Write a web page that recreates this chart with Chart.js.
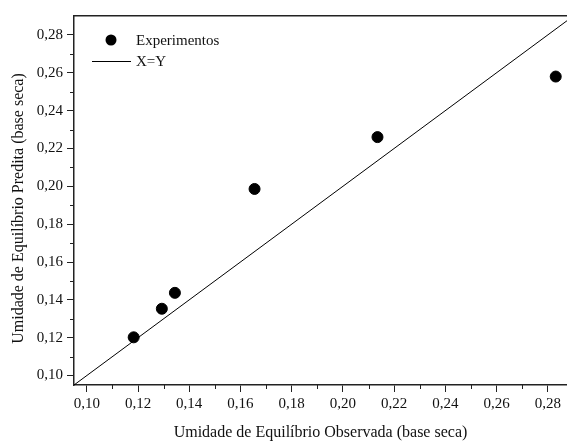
<!DOCTYPE html>
<html lang="en">
  <head>
    <meta name="viewport" content="width=device-width, initial-scale=1.0" />
    <title>Umidade de Equilíbrio</title>
    <style>
      * {
        padding: 0;
        margin: 0;
        box-sizing: border-box;
      }
      body {
        background: #ffffff;
        overflow: hidden;
      }
      .wrapper {
        position: relative;
        width: 567px;
        height: 441px;
      }
    </style>
  </head>
  <body>
    <div class="wrapper">
      <canvas id="chart"></canvas>
    </div>
    <script src="https://cdn.jsdelivr.net/npm/chart.js@4/dist/chart.umd.min.js"></script>
    <script>
      // dados
      const observada = [0.1183, 0.1293, 0.1344, 0.1655, 0.2135, 0.2831];
      const predita = [0.1202, 0.1353, 0.1437, 0.1986, 0.2260, 0.2580];
      const linhaX = [0.095, 0.29];
      const linhaY = [0.095, 0.29];
      const majorTicks = [0.10, 0.12, 0.14, 0.16, 0.18, 0.20, 0.22, 0.24, 0.26, 0.28];
      const minorTicks = [0.11, 0.13, 0.15, 0.17, 0.19, 0.21, 0.23, 0.25, 0.27];

      const serif = "'Liberation Serif', 'Times New Roman', serif";
      const axisColor = "#222";
      const fmt = (v) => v.toFixed(2).replace(".", ",");

      // ticks menores (mais curtos)
      const minorTickPlugin = {
        id: "minorTicks",
        afterDraw(chart) {
          const ctx = chart.ctx;
          const xs = chart.scales.x;
          const ys = chart.scales.y;
          ctx.save();
          ctx.strokeStyle = axisColor;
          ctx.lineWidth = 1;
          ctx.beginPath();
          for (const v of minorTicks) {
            const px = Math.round(xs.getPixelForValue(v)) + 0.5;
            ctx.moveTo(px, xs.top);
            ctx.lineTo(px, xs.top + 4);
            const py = Math.round(ys.getPixelForValue(v)) + 0.5;
            ctx.moveTo(ys.right, py);
            ctx.lineTo(ys.right - 4, py);
          }
          ctx.stroke();
          ctx.restore();
        },
      };

      // legenda dentro da área do gráfico
      const legendPlugin = {
        id: "insideLegend",
        afterDraw(chart) {
          const ctx = chart.ctx;
          const area = chart.chartArea;
          const ds = chart.data.datasets;
          ctx.save();
          ctx.font = "15px " + serif;
          ctx.textBaseline = "middle";
          // pontos
          let y = area.top + 24;
          ctx.beginPath();
          ctx.arc(area.left + 37, y, ds[0].pointRadius, 0, Math.PI * 2);
          ctx.fillStyle = ds[0].backgroundColor;
          ctx.fill();
          ctx.fillStyle = "#111";
          ctx.fillText(ds[0].label, area.left + 62, y + 1);
          // linha
          y = area.top + 45;
          ctx.beginPath();
          ctx.strokeStyle = ds[1].borderColor;
          ctx.lineWidth = ds[1].borderWidth;
          ctx.moveTo(area.left + 18, y + 0.5);
          ctx.lineTo(area.left + 57, y + 0.5);
          ctx.stroke();
          ctx.fillText(ds[1].label, area.left + 62, y + 1);
          ctx.restore();
        },
      };

      const axisBase = (min, max) => ({
        type: "linear",
        min: min,
        max: max,
        afterBuildTicks: (scale) => {
          scale.ticks = majorTicks.map((v) => ({ value: v }));
        },
        grid: {
          display: true,
          drawOnChartArea: false,
          drawTicks: true,
          tickLength: 7,
          tickColor: axisColor,
          tickWidth: 1,
        },
        border: { display: true, color: axisColor, width: 1.5 },
      });

      const xAxis = axisBase(0.095, 0.2875);
      xAxis.position = "bottom";
      xAxis.ticks = {
        color: "#111",
        font: { family: serif, size: 15 },
        padding: 3,
        maxRotation: 0,
        autoSkip: false,
        callback: (v) => fmt(v),
      };
      xAxis.title = {
        display: true,
        text: "Umidade de Equilíbrio Observada (base seca)",
        color: "#111",
        font: { family: serif, size: 16, lineHeight: 1 },
        padding: { top: 0, bottom: 0 },
      };
      xAxis.afterFit = (scale) => {
        scale.height = 56;
        scale.paddingLeft = 0;
        scale.paddingRight = 0;
      };

      const yAxis = axisBase(0.095, 0.29);
      yAxis.position = "left";
      yAxis.ticks = {
        color: "#111",
        font: { family: serif, size: 15 },
        padding: 4,
        autoSkip: false,
        callback: (v) => fmt(v),
      };
      yAxis.title = {
        display: true,
        text: "Umidade de Equilíbrio Predita (base seca)\u00a0\u00a0\u00a0\u00a0",
        color: "#111",
        font: { family: serif, size: 16, lineHeight: 1 },
        padding: { top: 11, bottom: 0 },
      };
      yAxis.afterFit = (scale) => {
        scale.width = 74;
        scale.paddingTop = 0;
        scale.paddingBottom = 0;
      };

      const chart = new Chart(document.getElementById("chart"), {
        type: "scatter",
        plugins: [minorTickPlugin, legendPlugin],
        data: {
          datasets: [
            {
              label: "Experimentos",
              data: observada.map((x, i) => ({ x: x, y: predita[i] })),
              backgroundColor: "#000",
              borderColor: "#000",
              pointRadius: 5.5,
              pointHoverRadius: 5.5,
              order: 0,
            },
            {
              label: "X=Y",
              type: "line",
              data: linhaX.map((x, i) => ({ x: x, y: linhaY[i] })),
              borderColor: "#000",
              borderWidth: 1,
              pointRadius: 0,
              fill: false,
              order: 1,
            },
          ],
        },
        options: {
          responsive: true,
          maintainAspectRatio: false,
          animation: false,
          layout: {
            autoPadding: false,
            padding: { top: 0, right: 0, bottom: 0, left: 0 },
          },
          plugins: {
            legend: { display: false },
            tooltip: { enabled: false },
          },
          scales: {
            x: xAxis,
            y: yAxis,
            x2: {
              type: "linear",
              position: "top",
              min: 0.095,
              max: 0.2875,
              ticks: { display: false },
              grid: { display: false, drawTicks: false },
              border: { display: true, color: axisColor, width: 1.5 },
              afterFit: (scale) => {
                scale.height = 16;
                scale.paddingLeft = 0;
                scale.paddingRight = 0;
              },
            },
          },
        },
      });
    </script>
  </body>
</html>
